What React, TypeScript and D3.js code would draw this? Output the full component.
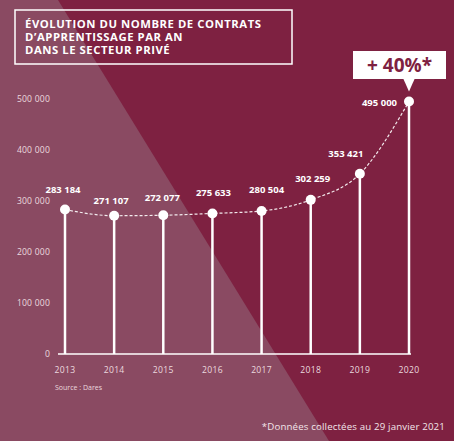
import React from 'react';
import * as d3 from 'd3';

// Contrats d'apprentissage, secteur privé (source : Dares)
const years = ['2013', '2014', '2015', '2016', '2017', '2018', '2019', '2020'];
const contracts = [283184, 271107, 272077, 275633, 280504, 302259, 353421, 495000];
const yTicks = [0, 100000, 200000, 300000, 400000, 500000];
const titleLines = ['ÉVOLUTION DU NOMBRE DE CONTRATS', 'D’APPRENTISSAGE PAR AN', 'DANS LE SECTEUR PRIVÉ'];
const callout = '+ 40%*';
const source = 'Source : Dares';
const footnote = '*Données collectées au 29 janvier 2021';

// label placement relative to each point [dx, dy]
const labelNudge: [number, number][] = [
  [-2, -17], [-3, -12], [-1, -14], [1, -17], [5, -18], [2, -18], [-14, -17], [-12, 4],
];

const W = 454;
const H = 441;
const DARK = '#7e2141';
const LIGHT = '#8a4a62';
const FONT = '"Open Sans", "DejaVu Sans", sans-serif';

const fr = d3.formatLocale({ decimal: ',', thousands: ' ', grouping: [3], currency: ['', ' €'] });
const fmt = fr.format(',d');

export default function App() {
  const x = d3.scalePoint<string>().domain(years).range([65, 409]);
  const y = d3.scaleLinear().domain([0, 500000]).range([354, 99]);

  const pts = years.map((yr, i) => ({ yr, v: contracts[i], px: x(yr)!, py: y(contracts[i]) }));
  const line = d3.line<typeof pts[0]>()
    .x((d) => d.px)
    .y((d) => d.py)
    .curve(d3.curveMonotoneX);

  const last = pts[pts.length - 1];

  return (
    <svg width={W} height={H} style={{ position: 'absolute', left: 0, top: 0 }} fontFamily={FONT}>
      <rect width={W} height={H} fill={DARK} />
      <path d={`M0,0 L58,0 L329,${H} L0,${H} Z`} fill={LIGHT} />

      {/* title */}
      <rect x={15} y={10} width={277} height={54} fill="none" stroke="#fff" strokeWidth={1.5} />
      <text fill="#fff" fontSize={11.3} fontWeight={700} letterSpacing={0.55}>
        {titleLines.map((t, i) => (
          <tspan key={t} x={25} y={28 + i * 13}>{t}</tspan>
        ))}
      </text>

      {/* y axis labels */}
      {yTicks.map((t) => (
        <text key={t} x={50} y={y(t)} dy="0.35em" textAnchor="end" fill="#ead9df" fontSize={8.6} letterSpacing={0.2}>{fmt(t)}</text>
      ))}

      {/* baseline */}
      <line x1={58} x2={411} y1={y(0)} y2={y(0)} stroke="#fff" strokeWidth={1.5} />

      {/* stems */}
      {pts.map((d) => (
        <line key={d.yr} x1={d.px} x2={d.px} y1={d.py} y2={y(0)} stroke="#fff" strokeWidth={2.5} />
      ))}

      <path d={line(pts)!} fill="none" stroke="#fff" strokeWidth={1.2} strokeDasharray="3,2" opacity={0.9} />

      {pts.map((d) => (
        <circle key={d.yr} cx={d.px} cy={d.py} r={5} fill="#fff" />
      ))}

      {/* value labels */}
      {pts.map((d, i) => (
        <text
          key={d.yr}
          x={d.px + labelNudge[i][0]}
          y={d.py + labelNudge[i][1]}
          textAnchor={i === pts.length - 1 ? 'end' : 'middle'}
          fill="#fff"
          fontSize={9.5}
          fontWeight={700}
        >
          {fmt(d.v)}
        </text>
      ))}

      {/* year labels */}
      {years.map((yr) => (
        <text key={yr} x={x(yr)!} y={373} textAnchor="middle" fill="#ead9df" fontSize={8.6} letterSpacing={0.3}>{yr}</text>
      ))}

      <text x={55} y={390} fill="#ead9df" fontSize={7}>{source}</text>

      {/* callout */}
      <rect x={353} y={51} width={93} height={28} fill="#fff" />
      <path d={`M${last.px - 6},78 L${last.px + 6},78 L${last.px},${last.py - 10} Z`} fill="#fff" />
      <text x={399.5} y={72} textAnchor="middle" fill={DARK} fontSize={19} fontWeight={700}>{callout}</text>

      <text x={445} y={430} textAnchor="end" fill="#f2e6ea" fontSize={9.7} letterSpacing={0.15}>{footnote}</text>
    </svg>
  );
}
